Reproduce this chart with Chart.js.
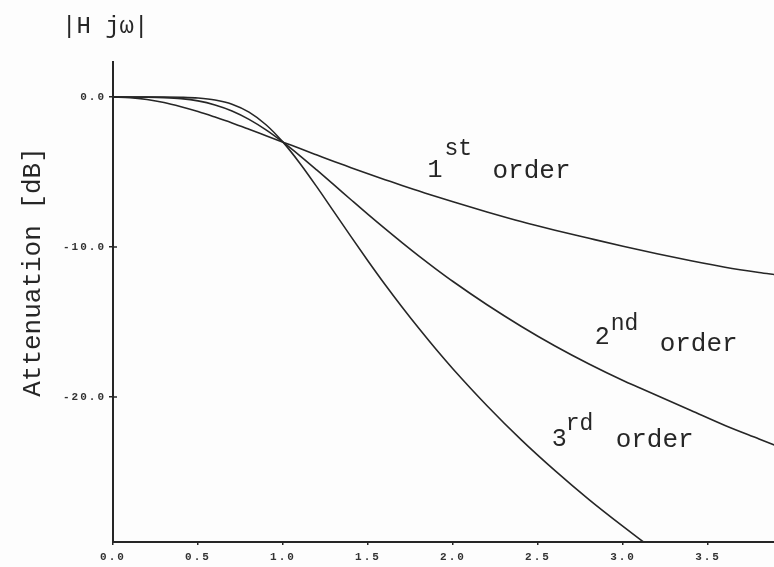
<!DOCTYPE html>
<html>
<head>
<meta charset="utf-8">
<script src="https://cdn.jsdelivr.net/npm/chart.js@4/dist/chart.umd.min.js"></script>
<style>
  html, body { margin: 0; padding: 0; background: #fdfdfd; }
  canvas { display: block; }
</style>
</head>
<body>
<canvas id="chart" width="774" height="567"></canvas>
<script>
// Normalised frequency (omega / omega_c)
const omega = [0, 0.1, 0.2, 0.3, 0.4, 0.5, 0.6, 0.7, 0.8, 0.9, 1.0, 1.1, 1.2, 1.3, 1.4, 1.5, 1.6, 1.7, 1.8, 1.9, 2.0,
               2.2, 2.4, 2.6, 2.8, 3.0, 3.1, 3.2, 3.4, 3.6, 3.8, 3.9];

// Attenuation in dB for each filter order
const order1 = [0, -0.04, -0.17, -0.37, -0.65, -0.97, -1.34, -1.73, -2.15, -2.58, -3.01, -3.44, -3.87, -4.30, -4.71, -5.12, -5.51, -5.90, -6.27, -6.64, -6.99,
                -7.66, -8.30, -8.88, -9.42, -9.95, -10.20, -10.45, -10.92, -11.35, -11.70, -11.85];
const order2 = [0, 0, -0.01, -0.04, -0.11, -0.26, -0.53, -0.93, -1.49, -2.19, -3.01, -3.92, -4.88, -5.86, -6.85, -7.83, -8.78, -9.71, -10.61, -11.47, -12.30,
                -13.85, -15.28, -16.60, -17.80, -18.90, -19.40, -19.90, -20.90, -21.90, -22.80, -23.25];
const order3 = [0, 0, 0, 0, -0.02, -0.07, -0.20, -0.48, -1.01, -1.85, -3.01, -4.43, -6.01, -7.66, -9.31, -10.93, -12.50, -14.00, -15.44, -16.82, -18.13,
                -20.58, -22.84, -24.91, -26.84, -28.63, -29.49, -30.31, null, null, null, null];

// Tick labels
const xTicks = [0, 0.5, 1.0, 1.5, 2.0, 2.5, 3.0, 3.5];
const yTicks = [0, -10, -20];

// Curve captions
const captionNums  = ['1', '2', '3'];
const captionSups  = ['st', 'nd', 'rd'];
const captionWord  = 'order';

const INK = '#262626';
const MONO = '"Liberation Mono", "DejaVu Sans Mono", monospace';

const toPoints = ys => omega.map((x, i) => ({ x, y: ys[i] }));

// Caption anchors (data units for the digit, pixel offsets for the rest)
const captionPlaces = [
  { x: 1.850, y: -5.35,  sup: [17, -22], word: [65, 1] },
  { x: 2.833, y: -16.47, sup: [16, -14], word: [65, 7] },
  { x: 2.580, y: -23.27, sup: [14, -16], word: [64, 1] }
];

const decorations = {
  id: 'decorations',
  beforeDraw(chart) {
    // wide spacing for the axis numbers
    chart.ctx.letterSpacing = '2px';
  },
  afterDatasetsDraw(chart) {
    const { ctx, scales: { x, y }, chartArea } = chart;
    ctx.save();
    ctx.letterSpacing = '0px';
    ctx.fillStyle = INK;
    ctx.textBaseline = 'alphabetic';
    ctx.textAlign = 'left';

    // inward half of the tick crosses
    ctx.strokeStyle = INK;
    ctx.lineWidth = 1.5;
    yTicks.forEach(v => {
      const py = y.getPixelForValue(v);
      ctx.beginPath();
      ctx.moveTo(chartArea.left, py);
      ctx.lineTo(chartArea.left + 4, py);
      ctx.stroke();
    });

    // curve captions
    captionPlaces.forEach((p, i) => {
      const px = x.getPixelForValue(p.x);
      const py = y.getPixelForValue(p.y);
      ctx.font = '25px ' + MONO;
      ctx.fillText(captionNums[i], px, py);
      ctx.font = '23px ' + MONO;
      ctx.fillText(captionSups[i], px + p.sup[0], py + p.sup[1]);
      ctx.font = '26px ' + MONO;
      ctx.fillText(captionWord, px + p.word[0], py + p.word[1]);
    });

    // magnitude heading
    ctx.font = '24px ' + MONO;
    ctx.fillText('|H jω|', 62, 33);

    // vertical axis caption
    ctx.translate(40, 272);
    ctx.rotate(-Math.PI / 2);
    ctx.textAlign = 'center';
    ctx.font = '26px ' + MONO;
    ctx.fillText('Attenuation [dB]', 0, 0);
    ctx.restore();
    ctx.letterSpacing = '0px';
  }
};

const lineStyle = {
  borderColor: INK,
  borderWidth: 1.6,
  pointRadius: 0,
  fill: false,
  cubicInterpolationMode: 'monotone',
  spanGaps: false
};

new Chart(document.getElementById('chart'), {
  type: 'line',
  data: {
    datasets: [
      { label: '1st order', data: toPoints(order1), ...lineStyle },
      { label: '2nd order', data: toPoints(order2), ...lineStyle },
      { label: '3rd order', data: toPoints(order3), ...lineStyle }
    ]
  },
  options: {
    responsive: false,
    animation: false,
    devicePixelRatio: 1,
    layout: { padding: { top: 62, right: 0, left: 0, bottom: 0 } },
    plugins: { legend: { display: false }, tooltip: { enabled: false }, title: { display: false } },
    scales: {
      x: {
        type: 'linear',
        min: 0,
        max: 3.888,
        afterFit(scale) { scale.height = 25; },
        afterBuildTicks(scale) { scale.ticks = xTicks.map(v => ({ value: v })); },
        border: { display: true, color: INK, width: 2 },
        grid: { drawOnChartArea: false, drawTicks: true, tickLength: 3, color: INK, lineWidth: 1.5 },
        ticks: {
          padding: 6,
          maxRotation: 0,
          autoSkip: false,
          color: '#333333',
          font: { family: MONO, size: 11, weight: 'bold' },
          callback: v => Number(v).toFixed(1)
        }
      },
      y: {
        type: 'linear',
        min: -29.667,
        max: 2.333,
        afterFit(scale) { scale.width = 113; },
        afterBuildTicks(scale) { scale.ticks = yTicks.map(v => ({ value: v })); },
        border: { display: true, color: INK, width: 2 },
        grid: { drawOnChartArea: false, drawTicks: true, tickLength: 4, color: INK, lineWidth: 1.5 },
        ticks: {
          padding: 3,
          autoSkip: false,
          color: '#333333',
          font: { family: MONO, size: 11, weight: 'bold' },
          callback: v => Number(v).toFixed(1)
        }
      }
    }
  },
  plugins: [decorations]
});
</script>
</body>
</html>
